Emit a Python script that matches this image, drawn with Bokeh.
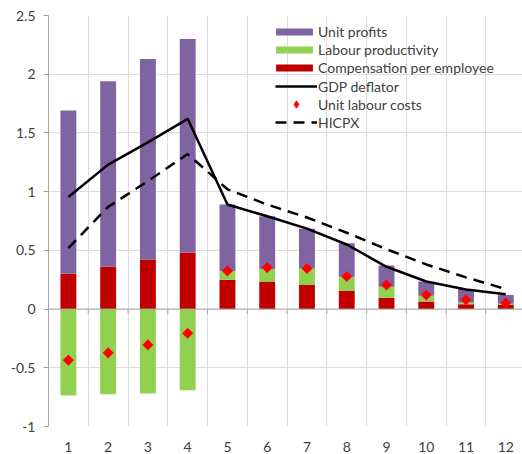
import numpy as np
from bokeh.plotting import figure
from bokeh.models import FixedTicker, Legend, LegendItem, Span
from bokeh.embed import file_html
from bokeh.resources import INLINE

# ---- data ----
periods = list(range(1, 13))
x_tick_labels = [str(i) for i in periods]
y_ticks = [-1, -0.5, 0, 0.5, 1, 1.5, 2, 2.5]
y_tick_labels = ["-1", "-0.5", "0", "0.5", "1", "1.5", "2", "2.5"]

compensation = [0.30, 0.36, 0.42, 0.48, 0.25, 0.235, 0.205, 0.153, 0.096, 0.065, 0.042, 0.034]
productivity = [-0.737, -0.726, -0.718, -0.692, 0.075, 0.105, 0.14, 0.122, 0.094, 0.048, 0.015, 0.011]
unit_profits = [1.39, 1.58, 1.71, 1.82, 0.565, 0.45, 0.34, 0.285, 0.18, 0.122, 0.113, 0.075]
unit_labour_costs = [-0.435, -0.373, -0.305, -0.206, 0.325, 0.353, 0.345, 0.277, 0.206, 0.12, 0.079, 0.053]
gdp_deflator = [0.955, 1.23, 1.42, 1.62, 0.89, 0.79, 0.685, 0.55, 0.36, 0.235, 0.167, 0.127]
hicpx = [0.52, 0.87, 1.09, 1.32, 1.02, 0.89, 0.78, 0.65, 0.51, 0.38, 0.27, 0.17]

PURPLE = "#8064A2"
GREEN = "#92D050"
RED = "#C00000"
DIAMOND = "#FF0000"
FONT = "Lato"
TXT = "#404040"
AXIS = "#A6A6A6"
GRID = "#DDDDDD"

x = np.array(periods, dtype=float)
comp = np.array(compensation)
prod = np.array(productivity)
prof = np.array(unit_profits)

prod_bottom = np.where(prod >= 0, comp, prod)
prod_top = np.where(prod >= 0, comp + prod, 0.0)
prof_bottom = comp + np.clip(prod, 0, None)
prof_top = prof_bottom + prof

p = figure(width=522, height=454, x_range=(0.5, 12.42), y_range=(-1, 2.5),
           output_backend="svg", toolbar_location=None,
           min_border_left=48, min_border_right=0, min_border_top=15, min_border_bottom=26)
p.outline_line_color = None
p.background_fill_color = "white"

# grid
p.xgrid.ticker = FixedTicker(ticks=[i + 0.5 for i in periods[:-1]])
p.ygrid.ticker = FixedTicker(ticks=y_ticks)
p.xgrid.grid_line_color = GRID
p.ygrid.grid_line_color = GRID

# axes
p.xaxis.ticker = FixedTicker(ticks=periods)
p.xaxis.major_label_overrides = {float(i): s for i, s in zip(periods, x_tick_labels)}
p.xaxis.axis_line_color = None
p.xaxis.major_tick_line_color = None
p.xaxis.minor_tick_line_color = None
p.xaxis.major_label_standoff = 9
p.xaxis.major_label_text_font = FONT
p.xaxis.major_label_text_font_size = "14px"
p.xaxis.major_label_text_color = TXT

p.yaxis.ticker = FixedTicker(ticks=y_ticks)
p.yaxis.major_label_overrides = {float(t): s for t, s in zip(y_ticks, y_tick_labels)}
p.yaxis.axis_line_color = AXIS
p.yaxis.major_tick_line_color = AXIS
p.yaxis.major_tick_out = 5
p.yaxis.major_tick_in = 0
p.yaxis.minor_tick_line_color = None
p.yaxis.major_label_standoff = 8
p.yaxis.major_label_text_font = FONT
p.yaxis.major_label_text_font_size = "14px"
p.yaxis.major_label_text_color = TXT

# zero line with category tick marks
p.add_layout(Span(location=0, dimension="width", line_color=AXIS, line_width=1))
bounds = [i + 0.5 for i in periods[:-1]]
p.segment(x0=bounds, y0=[0] * len(bounds), x1=bounds, y1=[-0.042] * len(bounds),
          line_color=AXIS, line_width=1)

# stacked bars
w = 0.4
r_comp = p.vbar(x=x, width=w, bottom=0, top=comp, fill_color=RED, line_color=None)
r_prod = p.vbar(x=x, width=w, bottom=prod_bottom, top=prod_top, fill_color=GREEN, line_color=None)
r_prof = p.vbar(x=x, width=w, bottom=prof_bottom, top=prof_top, fill_color=PURPLE, line_color=None)

# lines
r_gdp = p.line(x, gdp_deflator, line_color="black", line_width=2.5)
r_hicp = p.line(x, hicpx, line_color="black", line_width=2.5, line_dash="11 7")

# diamonds (unit labour costs)
r_ulc = p.scatter(x, unit_labour_costs, marker="square", angle=np.pi / 4, size=7.5,
                  fill_color=DIAMOND, line_color="#E0201A", line_width=0.5)
# same series as an (unrotated) diamond marker, hidden, used only for the legend swatch
lg_ulc = p.scatter(x, unit_labour_costs, marker="diamond", fill_color=DIAMOND,
                   line_color=DIAMOND, visible=False)


def style_legend(lg, gw, gh):
    lg.padding = 0
    lg.margin = 0
    lg.spacing = 0
    lg.border_line_color = None
    lg.background_fill_alpha = 0
    lg.inactive_fill_alpha = 0
    lg.glyph_width = gw
    lg.glyph_height = gh
    lg.label_height = 18
    lg.label_standoff = 1
    lg.label_text_font = FONT
    lg.label_text_font_size = "14px"
    lg.label_text_color = TXT


legend_bars = Legend(items=[
    LegendItem(label="Unit profits", renderers=[r_prof]),
    LegendItem(label="Labour productivity", renderers=[r_prod]),
    LegendItem(label="Compensation per employee", renderers=[r_comp]),
], location=(223, 350))
style_legend(legend_bars, 46, 9)

legend_lines = Legend(items=[
    LegendItem(label="GDP deflator", renderers=[r_gdp]),
    LegendItem(label="Unit labour costs", renderers=[lg_ulc]),
    LegendItem(label="HICPX", renderers=[r_hicp]),
], location=(227, 295))
style_legend(legend_lines, 42, 18)

p.add_layout(legend_bars)
p.add_layout(legend_lines)

open("out.html", "w").write(file_html(p, INLINE))
